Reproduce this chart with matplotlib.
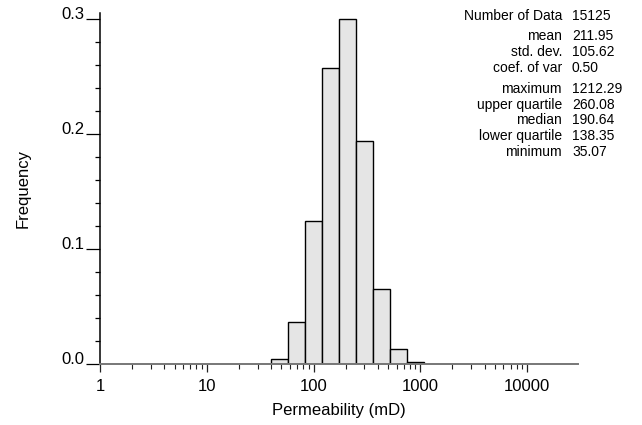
import numpy as np
import matplotlib
matplotlib.use("Agg")
import matplotlib.pyplot as plt
from matplotlib.ticker import FixedLocator, NullFormatter

plt.rcParams['font.family'] = ['Liberation Sans', 'DejaVu Sans']

# histogram definition (log-spaced bins between x_min and x_max)
x_min = 1.0
x_max = 30000.0
n_bins = 28
freq = [0, 0, 0, 0, 0, 0, 0, 0, 0,
        0.0003, 0.0041, 0.0365, 0.124, 0.257, 0.300, 0.1936, 0.065,
        0.0128, 0.0015,
        0, 0, 0, 0, 0, 0, 0, 0, 0]

stat_labels = ["Number of Data", "mean", "std. dev.", "coef. of var",
               "maximum", "upper quartile", "median", "lower quartile", "minimum"]
stat_values = ["15125", "211.95", "105.62", "0.50",
               "1212.29", "260.08", "190.64", "138.35", "35.07"]
stat_group = [0, 1, 1, 1, 2, 2, 2, 2, 2]

x_ticks = [1, 10, 100, 1000, 10000]
x_ticklabels = ["1", "10", "100", "1000", "10000"]
y_ticks = [0.0, 0.1, 0.2, 0.3]

W, H = 642, 425
fig = plt.figure(figsize=(W / 100, H / 100), dpi=100)
ax = fig.add_axes([100 / W, 1 - 364 / H, 478 / W, (364 - 12.7) / H])

edges = np.logspace(np.log10(x_min), np.log10(x_max), n_bins + 1)
freq = np.array(freq)
keep = freq > 0
ax.bar(edges[:-1][keep], freq[keep], width=np.diff(edges)[keep], align='edge',
       color='#e5e5e5', edgecolor='black', linewidth=1.0, zorder=2)

ax.set_xscale('log')
ax.set_xlim(x_min, x_max)
ax.set_ylim(0, 0.3055)

for s in ['top', 'right']:
    ax.spines[s].set_visible(False)
ax.spines['left'].set_color('black')
ax.spines['left'].set_linewidth(1.1)
ax.spines['bottom'].set_color('#777777')
ax.spines['bottom'].set_linewidth(1.4)

ax.xaxis.set_major_locator(FixedLocator(x_ticks))
ax.set_xticklabels(x_ticklabels)
minors = [m * d for d in [1, 10, 100, 1000] for m in range(2, 10)]
ax.xaxis.set_minor_locator(FixedLocator(minors))
ax.xaxis.set_minor_formatter(NullFormatter())
ax.tick_params(axis='x', which='major', direction='out', length=6, width=0.9,
               pad=5, labelsize=12, color='#222222')
ax.tick_params(axis='x', which='minor', direction='out', length=3.6, width=0.8,
               color='#222222')

ax.yaxis.set_major_locator(FixedLocator(y_ticks))
ax.set_yticklabels(["%.1f" % v for v in y_ticks])
ax.yaxis.set_minor_locator(FixedLocator(np.arange(0, 0.301, 0.02)))
ax.tick_params(axis='y', which='major', direction='out', length=10, width=0.9,
               pad=1, labelsize=12)
ax.tick_params(axis='y', which='minor', direction='out', length=3.6, width=0.9)
for lab in ax.get_yticklabels():
    lab.set_verticalalignment('baseline')

ax.set_xlabel("Permeability (mD)", fontsize=12, labelpad=6)
ax.set_ylabel("Frequency", fontsize=12, labelpad=22)

# summary statistics block
y0 = 15.7
for i, (lab, val) in enumerate(zip(stat_labels, stat_values)):
    y = y0 + 15.8 * i + 5.0 * stat_group[i]
    fig.text(562 / W, 1 - y / H, lab, ha='right', va='center', fontsize=10)
    fig.text(572 / W, 1 - y / H, val, ha='left', va='center', fontsize=10)

fig.savefig("out.png", dpi=100)
